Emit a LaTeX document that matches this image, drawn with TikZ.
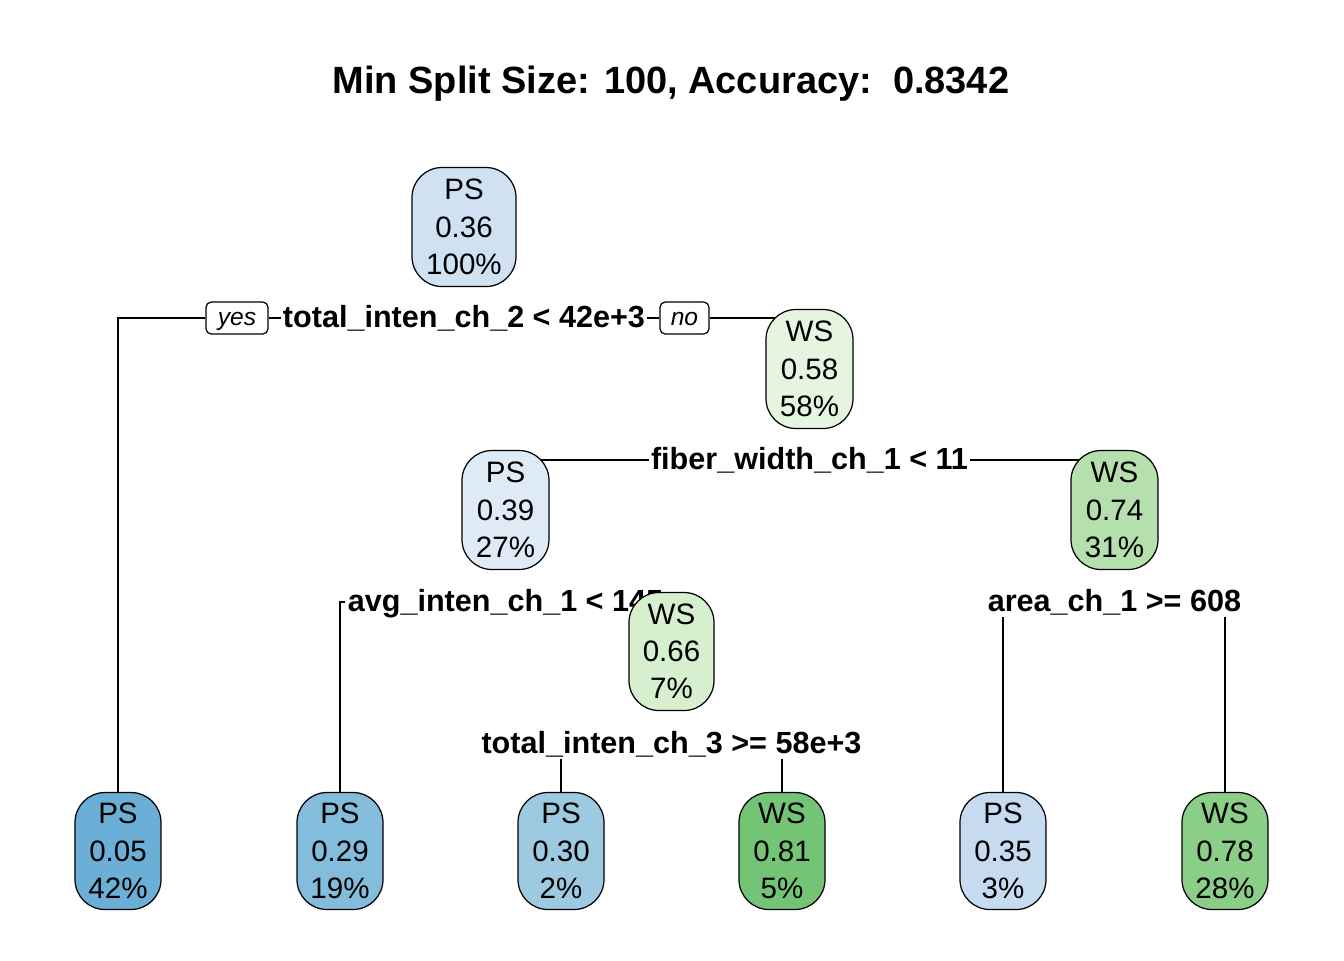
\documentclass[tikz,border=0pt]{standalone}
\usepackage{fontspec}
\setmainfont{Liberation Sans}
\usetikzlibrary{backgrounds}

\definecolor{psroot}{HTML}{D0E1F2}
\definecolor{psmid}{HTML}{DEEBF7}
\definecolor{psfive}{HTML}{6BAED6}
\definecolor{pstwnine}{HTML}{84BCDB}
\definecolor{psthirty}{HTML}{9ECAE1}
\definecolor{psthfive}{HTML}{C6DBEF}
\definecolor{wsfeight}{HTML}{E5F5E0}
\definecolor{wssfour}{HTML}{B5E0AE}
\definecolor{wsssix}{HTML}{D5EFCF}
\definecolor{wseone}{HTML}{74C476}
\definecolor{wsseight}{HTML}{8ACE87}

\begin{document}
\begin{tikzpicture}[
        leaf/.style={draw, line width=0.35pt, rounded corners=0.3cm, align=center,
            inner sep=0pt, minimum width=0.86cm, minimum height=1.17cm,
            font=\fontsize{8.4}{10.6}\selectfont},
        inner/.style={leaf, minimum width=0.87cm, minimum height=1.19cm},
        split/.style={anchor=mid, inner sep=0.5pt, font=\fontsize{8.7}{10}\selectfont\bfseries},
        answer/.style={draw, line width=0.35pt, rounded corners=1.5pt, inner sep=0pt,
            minimum height=0.32cm, text height=4.3pt, text depth=0pt,
            font=\fontsize{7}{8}\selectfont\itshape},
        branch/.style={line width=0.35pt}
    ]
        \useasboundingbox (0,0) rectangle (13.44,-9.6);

        \coordinate (R) at (4.64,-2.27);
        \coordinate (A) at (8.095,-3.69);
        \coordinate (B) at (5.055,-5.10);
        \coordinate (C) at (11.145,-5.10);
        \coordinate (D) at (6.715,-6.515);

        \coordinate (L1) at (1.18,-8.51);
        \coordinate (L2) at (3.40,-8.51);
        \coordinate (L3) at (5.61,-8.51);
        \coordinate (L4) at (7.82,-8.51);
        \coordinate (L5) at (10.03,-8.51);
        \coordinate (L6) at (12.25,-8.51);

        \node [anchor=base, font=\fontsize{10.8}{13}\selectfont\bfseries] (title) at (6.71,-0.93) {Min Split Size: 100, Accuracy:\ \ 0.8342};

        \node [inner, fill=psroot, minimum width=1.04cm] (root) at (R) {PS\\0.36\\100\%};
        \node [split] (sp1) at (4.64,-3.18) {total\_inten\_ch\_2 < 42e+3};
        \node [answer, minimum width=0.62cm] (yes) at (2.37,-3.18) {yes};
        \node [answer, minimum width=0.49cm] (no) at (6.845,-3.18) {no};
        \node [inner, fill=wsfeight] (ws58) at (A) {WS\\0.58\\58\%};

        \node [split] (sp2) at (8.095,-4.60) {fiber\_width\_ch\_1 < 11};
        \node [inner, fill=psmid] (ps39) at (B) {PS\\0.39\\27\%};
        \node [inner, fill=wssfour] (ws74) at (C) {WS\\0.74\\31\%};

        \node [split] (sp3) at (5.055,-6.02) {avg\_inten\_ch\_1 < 145};
        \node [split] (sp5) at (11.145,-6.02) {area\_ch\_1 >= 608};
        \node [inner, fill=wsssix, minimum width=0.85cm, minimum height=1.18cm] (ws66) at (D) {WS\\0.66\\7\%};
        \node [split] (sp4) at (6.715,-7.44) {total\_inten\_ch\_3 >= 58e+3};

        \node [leaf, fill=psfive] (l1) at (L1) {PS\\0.05\\42\%};
        \node [leaf, fill=pstwnine] (l2) at (L2) {PS\\0.29\\19\%};
        \node [leaf, fill=psthirty] (l3) at (L3) {PS\\0.30\\2\%};
        \node [leaf, fill=wseone] (l4) at (L4) {WS\\0.81\\5\%};
        \node [leaf, fill=psthfive] (l5) at (L5) {PS\\0.35\\3\%};
        \node [leaf, fill=wsseight] (l6) at (L6) {WS\\0.78\\28\%};

        \begin{scope}[on background layer]
            \fill [white] (0,0) rectangle (13.44,-9.6);
            \draw [branch] (yes.west) -| (l1.north);
            \draw [branch] (yes.east) -- (sp1.mid west);
            \draw [branch] (sp1.mid east) -- (no.west);
            \draw [branch] (no.east) -| (ws58.north);
            \draw [branch] (sp2.mid west) -| (ps39.north);
            \draw [branch] (sp2.mid east) -| (ws74.north);
            \draw [branch] (sp3.mid west) -| (l2.north);
            \draw [branch] (sp3.mid east) -| (ws66.north);
            \draw [branch] (sp4.south -| l3.north) -- (l3.north);
            \draw [branch] (sp4.south -| l4.north) -- (l4.north);
            \draw [branch] (sp5.south -| l5.north) -- (l5.north);
            \draw [branch] (sp5.south -| l6.north) -- (l6.north);
        \end{scope}
    \end{tikzpicture}
\end{document}
